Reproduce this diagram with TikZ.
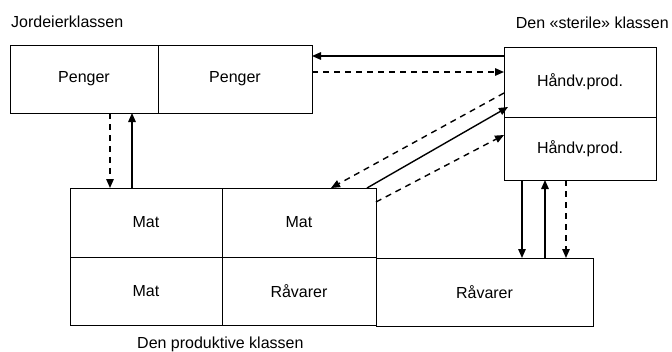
\documentclass[tikz,border=0pt]{standalone}
\usepackage{fontspec}
\setmainfont{Liberation Sans}
\usetikzlibrary{arrows.meta}
\begin{document}
\begin{tikzpicture}[x=1pt,y=-1pt,
  cell/.style={draw, line width=1pt, inner sep=0pt, outer sep=0pt, font=\fontsize{16}{19}\selectfont},
  lbl/.style={inner sep=0pt, font=\fontsize{16}{19}\selectfont},
  flow/.style={line width=1.4pt, -{Triangle[length=9pt,width=7.5pt]}},
  dflow/.style={flow, dash pattern=on 6pt off 5pt}]
\useasboundingbox (0,0) rectangle (672,351);
% top-left class
\node[cell, minimum width=148pt, minimum height=68pt] (p1) at (84,79) {Penger};
\node[cell, minimum width=154pt, minimum height=68pt] (p2) at (235,79) {Penger};
% right class
\node[cell, minimum width=152pt, minimum height=70pt] (h1) at (580,82) {Håndv.prod.};
\node[cell, minimum width=152pt, minimum height=63pt] (h2) at (580,148.5) {Håndv.prod.};
% bottom class
\node[cell, minimum width=152pt, minimum height=69pt] (m1) at (146,222.5) {Mat};
\node[cell, minimum width=154pt, minimum height=69pt] (m2) at (299,222.5) {Mat};
\node[cell, minimum width=152pt, minimum height=68pt] (m3) at (146,291) {Mat};
\node[cell, minimum width=154pt, minimum height=68pt] (r1) at (299,291) {Råvarer};
\node[cell, minimum width=217pt, minimum height=68pt] (r2) at (484.5,292) {Råvarer};
% labels
\node[lbl, anchor=base west] (l1) at (11,27) {Jordeierklassen};
\node[lbl, anchor=base east] (l2) at (669,28) {Den «sterile» klassen};
\node[lbl, anchor=base west] (l3) at (137,348) {Den produktive klassen};
% connectors top
\draw[flow] (h1.west |- 0,56) -- (p2.east |- 0,56);
\draw[dflow] (p2.east |- 0,72) -- (h1.west |- 0,72);
% connectors left verticals
\draw[dflow] (p1.south -| 110,0) -- (m1.north -| 110,0);
\draw[flow] (m1.north -| 132,0) -- (p1.south -| 132,0);
% diagonals
\draw[dflow] (h1.west |- 0,93) -- (m2.north -| 331,0);
\draw[flow] (m2.north -| 367,0) -- ([xshift=4pt]h1.west |- 0,107);
\draw[dflow] (m2.east |- 0,202) -- (h2.west |- 0,135);
% right verticals
\draw[flow] (h2.south -| 522,0) -- (r2.north -| 522,0);
\draw[flow] (r2.north -| 545,0) -- (h2.south -| 545,0);
\draw[dflow] (h2.south -| 566,0) -- (r2.north -| 566,0);
\end{tikzpicture}
\end{document}
